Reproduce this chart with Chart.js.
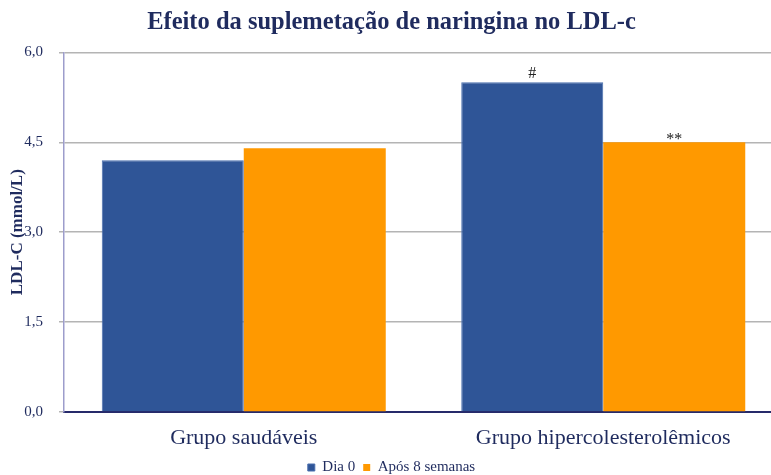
<!DOCTYPE html>
<html>
<head>
<meta charset="utf-8">
<script src="https://cdn.jsdelivr.net/npm/chart.js@4.4.1/dist/chart.umd.min.js"></script>
<style>
  html, body { margin: 0; padding: 0; background: #fff; overflow: hidden; }
  #wrap { width: 790px; height: 475px; }
</style>
</head>
<body>
<div id="wrap"><canvas id="chart" width="790" height="475"></canvas></div>
<script>
// dados do gráfico
const grupos = ['Grupo saudáveis', 'Grupo hipercolesterolêmicos'];
const dia0 = [4.2, 5.5];
const apos8 = [4.4, 4.5];
const marcasDia0 = ['', '#'];
const marcasApos8 = ['', '**'];
const yTicks = [0, 1.5, 3, 4.5, 6];

const navy = '#1f2b5e';

// escreve "#" e "**" em cima das barras
const marcasPlugin = {
  id: 'marcas',
  afterDatasetsDraw(chart) {
    const ctx = chart.ctx;
    const todas = [marcasDia0, marcasApos8];
    // deslocamento da linha de base (o asterisco fica alto na fonte)
    const ajuste = { '#': -4, '**': 2 };
    ctx.save();
    ctx.font = '16px "Liberation Serif", serif';
    ctx.fillStyle = '#222';
    ctx.textAlign = 'center';
    ctx.textBaseline = 'alphabetic';
    todas.forEach((marcas, di) => {
      const meta = chart.getDatasetMeta(di);
      meta.data.forEach((bar, i) => {
        const m = marcas[i];
        if (m) ctx.fillText(m, bar.x, bar.y + (ajuste[m] || -3));
      });
    });
    ctx.restore();
  }
};

// altura fixa da legenda
const legendaAltura = {
  id: 'legendaAltura',
  beforeInit(chart) {
    const fit = chart.legend.fit;
    chart.legend.fit = function () {
      fit.call(this);
      this.height = 23;
    };
  }
};

Chart.defaults.font.family = '"Liberation Serif", "Times New Roman", serif';

new Chart(document.getElementById('chart'), {
  type: 'bar',
  data: {
    labels: grupos,
    datasets: [
      {
        label: 'Dia 0',
        data: dia0,
        backgroundColor: '#2f5597',
        borderColor: '#4a6fae',
        borderWidth: 1
      },
      {
        label: 'Após 8 semanas',
        data: apos8,
        backgroundColor: '#ff9900',
        borderWidth: 0
      }
    ]
  },
  options: {
    responsive: false,
    animation: false,
    layout: { padding: { top: 0, right: 7, bottom: 0, left: 0 } },
    datasets: {
      bar: { categoryPercentage: 0.79, barPercentage: 1.0 }
    },
    scales: {
      x: {
        grid: { display: false, drawTicks: false },
        border: { color: '#262a6a', width: 2 },
        afterFit: s => { s.height = 40; },
        ticks: {
          color: navy,
          padding: 13,
          font: { size: 22 }
        }
      },
      y: {
        min: 0,
        max: 6,
        afterBuildTicks: s => { s.ticks = yTicks.map(v => ({ value: v })); },
        afterFit: s => { s.width = 64; },
        border: { color: '#9d9dcc', width: 1.5 },
        grid: { color: '#b4b4b4', lineWidth: 1.5, tickLength: 5 },
        ticks: {
          color: navy,
          padding: 16,
          font: { size: 15 },
          callback: v => v.toFixed(1).replace('.', ',')
        },
        title: {
          display: true,
          text: 'LDL-C (mmol/L)',
          color: navy,
          padding: { top: 7, bottom: 0 },
          font: { size: 17, weight: 'bold' }
        }
      }
    },
    plugins: {
      title: {
        display: true,
        text: 'Efeito da suplemetação de naringina no LDL-c',
        color: navy,
        padding: { top: 8, bottom: 15 },
        font: { size: 24.5, weight: 'bold' }
      },
      legend: {
        position: 'bottom',
        labels: {
          color: navy,
          boxWidth: 7,
          boxHeight: 7,
          padding: 8,
          font: { size: 15 }
        }
      },
      tooltip: { enabled: false }
    }
  },
  plugins: [marcasPlugin, legendaAltura]
});
</script>
</body>
</html>
